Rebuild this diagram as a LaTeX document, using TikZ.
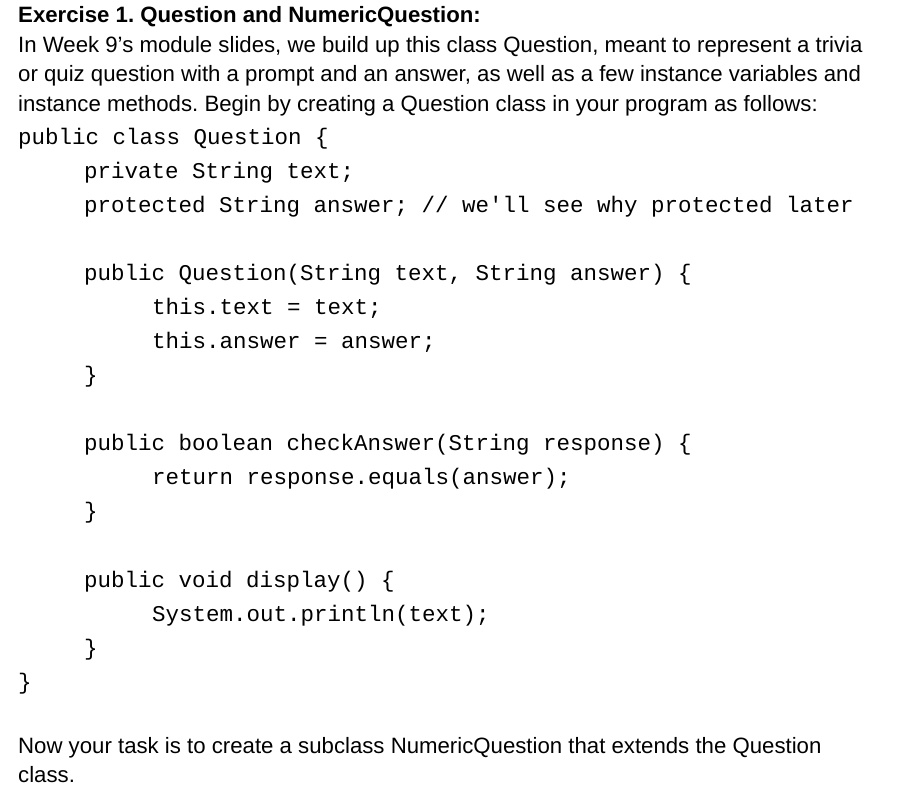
\documentclass[tikz,border=0pt]{standalone}
\usepackage{fontspec}
\setmainfont{Liberation Sans}
\setmonofont{Liberation Mono}
\usetikzlibrary{positioning}

\begin{document}
\frenchspacing
\begin{tikzpicture}[
    x=1pt, y=-1pt,
    prose/.style={anchor=base west, inner sep=0pt, font=\fontsize{22.2}{24}\selectfont},
    heading/.style={prose, font=\fontsize{22.2}{24}\selectfont\bfseries},
    code/.style={anchor=base west, inner sep=0pt, font=\fontsize{22.5}{24}\ttfamily}
]
\useasboundingbox (0,0) rectangle (898,798);

% --- Aufgabentext ---
\node[heading] (title) at (18,22) {Exercise 1. Question and NumericQuestion:};
\node[prose] (introa) at (18,52) {In Week 9's module slides, we build up this class Question, meant to represent a trivia};
\node[prose] (introb) at (18,81) {or quiz question with a prompt and an answer, as well as a few instance variables and};
\node[prose] (introc) at (18,111) {instance methods. Begin by creating a Question class in your program as follows:};

% --- Klasse Question ---
\node[code] (cls) at (18,144) {public class Question \{};
\node[code] (fldtext) at (84,178) {private String text;};
\node[code] (fldans) at (84,212) {protected String answer; // we'll see why protected later};

\node[code] (ctor) at (84,280) {public Question(String text, String answer) \{};
\node[code] (ctora) at (152,314) {this.text = text;};
\node[code] (ctorb) at (152,348) {this.answer = answer;};
\node[code] (ctorend) at (84,382) {\}};

\node[code] (chk) at (84,450) {public boolean checkAnswer(String response) \{};
\node[code] (chka) at (152,484) {return response.equals(answer);};
\node[code] (chkend) at (84,518) {\}};

\node[code] (disp) at (84,587) {public void display() \{};
\node[code] (dispa) at (152,621) {System.out.println(text);};
\node[code] (dispend) at (84,655) {\}};
\node[code] (clsend) at (18,689) {\}};

% --- Aufgabe ---
\node[prose] (taska) at (18,753) {Now your task is to create a subclass NumericQuestion that extends the Question};
\node[prose] (taskb) at (18,782) {class.};
\end{tikzpicture}
\end{document}
